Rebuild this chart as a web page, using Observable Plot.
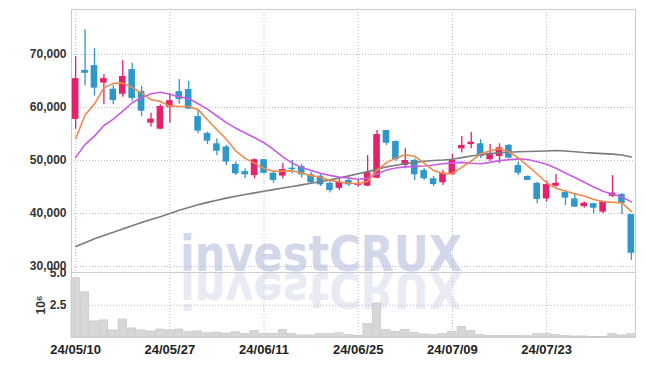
<!DOCTYPE html>
<html><head><meta charset="utf-8">
<script src="https://cdn.jsdelivr.net/npm/d3@7"></script>
<script src="https://cdn.jsdelivr.net/npm/@observablehq/plot@0.6"></script>
<style>
body{margin:0;background:#fff;}
#wrap{position:relative;width:645px;height:366px;overflow:hidden;font-family:"Liberation Sans",Arial,sans-serif;}
#wrap > svg{position:absolute;left:0;}
</style></head><body><div id="wrap">
<svg id="wm" width="645" height="366" style="top:0">
  <text x="180" y="271" textLength="282" lengthAdjust="spacingAndGlyphs" font-family="DejaVu Sans, Liberation Sans, sans-serif" font-size="50" font-weight="bold" fill="#d2d7ea">investCRUX</text>
  <text x="180" y="271" transform="translate(0,544) scale(1,-1)" textLength="282" lengthAdjust="spacingAndGlyphs" font-family="DejaVu Sans, Liberation Sans, sans-serif" font-size="50" font-weight="bold" fill="#e9ebf4">investCRUX</text>
</svg>
</div>
<script>
const dates = ["24/05/10","24/05/13","24/05/14","24/05/16","24/05/17","24/05/20","24/05/21","24/05/22","24/05/23","24/05/24","24/05/27","24/05/28","24/05/29","24/05/30","24/05/31","24/06/03","24/06/04","24/06/05","24/06/07","24/06/10","24/06/11","24/06/12","24/06/13","24/06/14","24/06/17","24/06/18","24/06/19","24/06/20","24/06/21","24/06/24","24/06/25","24/06/26","24/06/27","24/06/28","24/07/01","24/07/02","24/07/03","24/07/04","24/07/05","24/07/08","24/07/09","24/07/10","24/07/11","24/07/12","24/07/15","24/07/16","24/07/17","24/07/18","24/07/19","24/07/22","24/07/23","24/07/24","24/07/25","24/07/26","24/07/29","24/07/30","24/07/31","24/08/01","24/08/02","24/08/05"];
const tickDates = ["24/05/10","24/05/27","24/06/11","24/06/25","24/07/09","24/07/23"];
const priceTicks = [30000,40000,50000,60000,70000];
const volTicks = [2.5,5.0];
const open  = [57750,67000,67900,64600,63450,62500,67150,63000,57050,55900,60050,63000,63400,58300,55100,53150,52550,49250,47900,47150,50150,47600,47050,48550,48850,47300,47050,45700,44750,46250,45300,45150,46650,55650,53600,49050,50000,48100,46550,45800,47300,52200,53000,53150,50150,50750,52850,49050,47000,45700,42750,45150,44000,42750,41300,41850,40250,43250,43600,39800];
const high  = [69600,74650,71100,66200,64200,68800,68350,64000,58900,60500,62700,65300,64900,59450,55350,54100,52850,49700,48450,50300,50200,47900,49500,50000,49250,47800,47500,46250,46550,46650,46250,50950,55650,55700,53700,52200,50300,48450,47000,48100,51150,54550,55350,53900,53000,53150,53000,49700,47100,45900,46100,47350,44350,43700,42150,41900,42250,47150,43750,39800];
const low   = [55900,64100,62150,60500,60550,61950,61200,58250,56300,55850,57050,60600,59600,55050,53000,50950,49050,47150,46550,46550,47400,45700,46550,47500,46650,45600,45100,43850,44350,45100,44950,45100,46550,52850,49800,48450,46250,46250,45100,45300,47150,51400,52200,50400,49850,49400,50300,47150,46200,41850,42150,44950,41500,41150,41050,39950,39950,43000,39800,31150];
const close = [65450,66450,63650,65450,61300,65850,61700,59300,57800,60200,61300,61500,59700,55550,53650,51750,49700,47500,47300,50150,47600,46250,48300,48250,47300,45800,45400,44350,45900,45400,45600,47700,54900,53250,50150,50000,47300,46550,45450,47600,50000,52850,53450,50750,51250,52400,50450,47600,46250,42650,45450,45700,42900,41200,41950,41000,42250,43850,41850,32500];
const volume = [4.6,3.5,1.25,1.33,0.55,1.4,0.7,0.55,0.47,0.62,0.55,0.62,0.41,0.47,0.33,0.39,0.31,0.41,0.26,0.49,0.28,0.28,0.57,0.26,0.16,0.16,0.26,0.26,0.33,0.18,0.13,1.04,2.6,0.57,0.44,0.57,0.36,0.24,0.18,0.26,0.44,0.83,0.49,0.18,0.13,0.13,0.13,0.13,0.1,0.26,0.26,0.18,0.13,0.08,0.08,0.05,0.03,0.26,0.16,0.26];
const ma5   = [54100,58600,60650,63700,64550,64600,63800,62700,61450,61150,60300,60200,60200,59600,57700,55800,54000,51800,50400,49500,48500,47980,48000,48050,47650,47150,46850,46250,45950,45750,45600,46100,48150,49600,50450,51100,50800,49500,48100,47550,47550,48700,49900,51250,51850,52200,51650,50500,49000,47450,45800,44750,44250,43700,43300,42650,42250,42130,42000,40400];
const ma20  = [50600,53000,54600,56600,57800,59300,60900,61850,62600,62880,62500,62000,61700,60700,59700,58400,57150,56100,55200,54300,53350,52100,50700,49500,48700,48100,47600,47200,46870,46700,46450,46700,47450,48200,48600,48800,48900,48970,49150,49400,49550,49650,49480,49400,49650,49980,50150,50300,50180,49750,49300,48550,47650,46800,45900,45000,44200,43650,43100,42200];
const ma120 = [33770,34500,35250,35850,36450,37100,37700,38300,38850,39400,40000,40600,41150,41650,42100,42500,42900,43250,43600,43900,44200,44500,44800,45100,45400,45700,46000,46350,46700,47100,47500,47900,48350,48800,49100,49400,49650,49850,50000,50100,50250,50550,50850,51100,51300,51450,51550,51650,51700,51750,51800,51880,51800,51650,51500,51400,51300,51200,51050,50650];

const UP = "#e5216c", DOWN = "#2e97cb";
const rows = dates.map((d, i) => ({date: d, open: open[i], high: high[i], low: low[i], close: close[i], vol: volume[i], ma5: ma5[i], ma20: ma20[i], ma120: ma120[i]}));
const col = d => d.close >= d.open ? UP : DOWN;

const xScale = {type: "band", domain: dates, paddingInner: 0.3, paddingOuter: 0.09, round: false};
const grid = {stroke: "#b7bbd6", strokeOpacity: 1, strokeDasharray: "1,2"};
const font = "Liberation Sans, Arial, sans-serif";

const price = Plot.plot({
  width: 645, height: 272,
  marginTop: 9, marginBottom: 0, marginLeft: 71, marginRight: 10,
  style: {background: "transparent", fontFamily: font, fontSize: "12px", color: "#333"},
  x: {...xScale, axis: null},
  y: {domain: [28870, 78490], axis: null},
  marks: [
    Plot.gridY(priceTicks, grid),
    Plot.gridX(tickDates, grid),
    Plot.frame({stroke: "#cccccc"}),
    Plot.axisY(priceTicks, {tickSize: 0, tickPadding: 5, tickFormat: d3.format(","), label: null, fontSize: 12, fontWeight: "bold", fill: "#333"}),
    Plot.ruleX(rows, {x: "date", y1: "low", y2: "high", stroke: col, strokeWidth: 1.3}),
    Plot.barY(rows, {x: "date", y1: "open", y2: "close", fill: col}),
    Plot.line(rows, {x: "date", y: "ma120", stroke: "#7b7b7b", strokeWidth: 1.6}),
    Plot.line(rows, {x: "date", y: "ma20", stroke: "#c85ce6", strokeWidth: 1.6}),
    Plot.line(rows, {x: "date", y: "ma5", stroke: "#ee8a4c", strokeWidth: 1.6})
  ]
});
price.style.position = "absolute"; price.style.top = "0px";

const vol = Plot.plot({
  width: 645, height: 104,
  marginTop: 10, marginBottom: 29, marginLeft: 71, marginRight: 10,
  style: {background: "transparent", fontFamily: font, fontSize: "12px", color: "#333"},
  x: {...xScale, axis: null},
  y: {domain: [0, 5.05], axis: null},
  marks: [
    Plot.gridY([2.5], grid),
    Plot.gridX(tickDates, grid),
    Plot.barY(rows, {x: "date", y: "vol", fill: "#d7d7d7", stroke: "#c0c0c0", strokeWidth: 0.6, insetLeft: -0.9, insetRight: -0.9}),
    Plot.frame({stroke: "#cccccc"}),
    Plot.axisY(volTicks, {tickSize: 0, tickPadding: 5, tickFormat: d3.format(".1f"), label: "10⁶", labelAnchor: "center", labelOffset: 35, labelArrow: false, fontSize: 12, fontWeight: "bold", fill: "#333"}),
    Plot.axisX(tickDates, {tickSize: 0, tickPadding: 7, label: null, fontSize: 13, fontWeight: "bold", fill: "#222"})
  ]
});
vol.style.position = "absolute"; vol.style.top = "262px";

const wrap = document.getElementById("wrap");
wrap.appendChild(price);
wrap.appendChild(vol);
</script>
</body></html>
